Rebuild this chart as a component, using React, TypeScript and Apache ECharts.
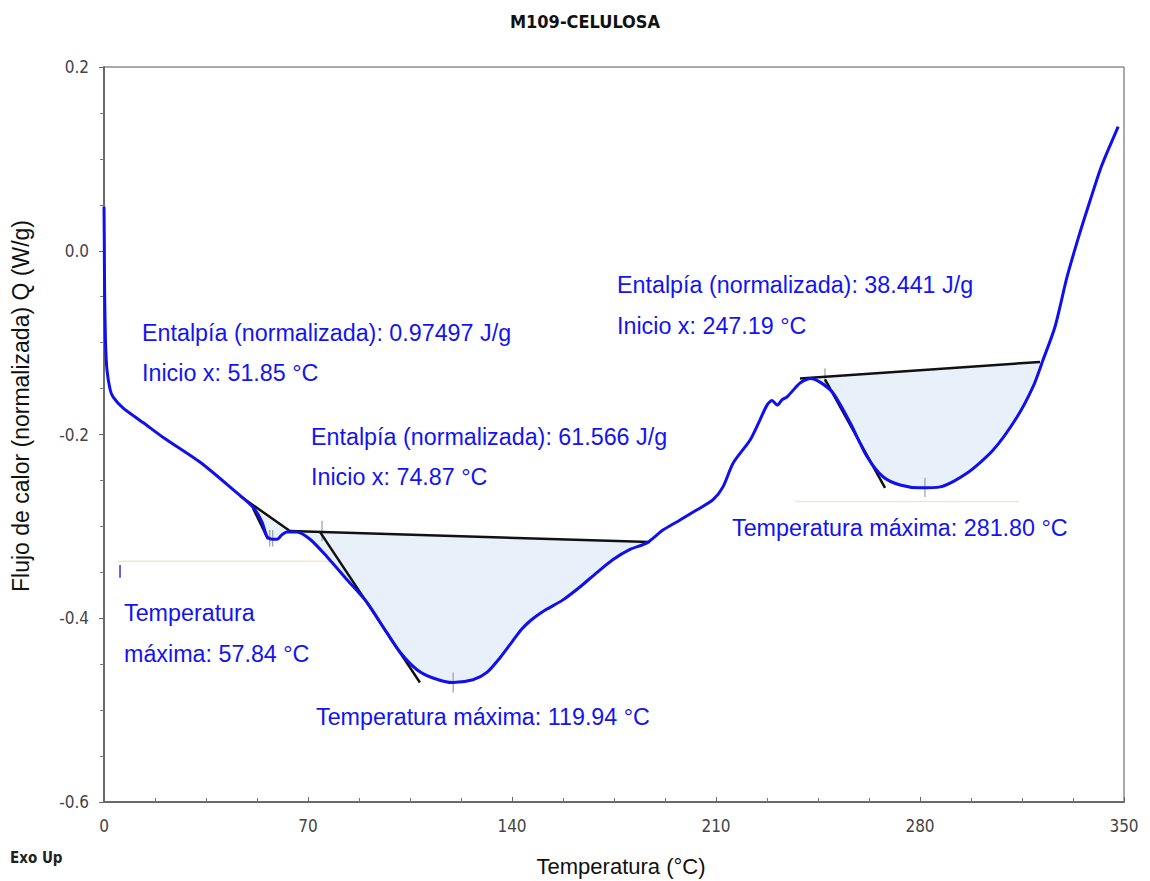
import React, { useEffect, useRef } from "react";
import * as echarts from "echarts";

// Temperature (°C) and heat flow Q (W/g) of the DSC curve
const curveT = [0,0.1,0.2,0.5,1.0,2.1,3.1,6.5,13.4,20.2,32.9,44.3,51.1,54.2,55.9,57.7,59.4,61.1,62.8,66.2,70.7,76.5,83.4,90.3,97.1,101.6,107.4,112.9,119.8,126.6,131.4,135.9,140.4,143.3,146.2,149.1,152.0,157.5,163.3,169.2,174.7,180.5,186.3,191.8,197.7,203.5,209.0,212.4,215.9,221.7,225.1,227.5,229.2,231.0,232.7,234.4,238.8,242.3,245.7,250.2,256.0,261.8,267.3,273.2,280.0,286.9,296.2,305.1,313.3,318.8,322.2,326.3,330.5,334.9,338.4,341.8,344.2,348.0];
const curveQ = [0.048,0.012,-0.042,-0.097,-0.129,-0.151,-0.159,-0.171,-0.187,-0.203,-0.230,-0.260,-0.279,-0.295,-0.311,-0.314,-0.314,-0.309,-0.306,-0.306,-0.314,-0.333,-0.358,-0.383,-0.416,-0.437,-0.456,-0.465,-0.470,-0.467,-0.459,-0.443,-0.424,-0.412,-0.403,-0.396,-0.390,-0.380,-0.366,-0.350,-0.336,-0.325,-0.318,-0.304,-0.293,-0.282,-0.271,-0.257,-0.231,-0.206,-0.184,-0.168,-0.163,-0.168,-0.162,-0.159,-0.144,-0.139,-0.143,-0.155,-0.187,-0.224,-0.246,-0.255,-0.258,-0.257,-0.242,-0.217,-0.181,-0.148,-0.119,-0.083,-0.028,0.020,0.055,0.088,0.107,0.135];

// Baselines (integration limits) of the three peaks
const baselines = [
  [[46.7, -0.267], [63.8, -0.305]],
  [[63.8, -0.305], [187.4, -0.317]],
  [[238.8, -0.139], [321.2, -0.121]],
];
// Onset tangents
const tangents = [
  [[51.1, -0.28], [56.3, -0.314]],
  [[74.1, -0.306], [108.4, -0.47]],
  [[247.4, -0.14], [268.0, -0.258]],
];
// Small grey markers at onset / peak positions
const markers = [
  [[56.9, -0.304], [56.9, -0.322]],
  [[57.9, -0.304], [57.9, -0.322]],
  [[74.8, -0.294], [74.8, -0.316]],
  [[119.8, -0.459], [119.8, -0.481]],
  [[247.4, -0.128], [247.4, -0.147]],
  [[281.7, -0.247], [281.7, -0.268]],
];
const blueMarker = [[5.5, -0.342], [5.5, -0.356]];
const faintLines = [
  [[4.8, -0.338], [77.6, -0.338]],
  [[237, -0.273], [314, -0.273]],
];

const xTicks = [0, 70, 140, 210, 280, 350];
const yTicks = [-0.6, -0.4, -0.2, 0.0, 0.2];

const annotations = [
  { text: "Entalpía (normalizada): 0.97497 J/g", x: 142, y: 333 },
  { text: "Inicio x: 51.85 °C", x: 142, y: 373 },
  { text: "Entalpía (normalizada): 61.566 J/g", x: 311, y: 437 },
  { text: "Inicio x: 74.87 °C", x: 311, y: 477 },
  { text: "Entalpía (normalizada): 38.441 J/g", x: 617, y: 285 },
  { text: "Inicio x: 247.19 °C", x: 617, y: 326 },
  { text: "Temperatura máxima: 281.80 °C", x: 732, y: 528 },
  { text: "Temperatura máxima: 119.94 °C", x: 316, y: 717 },
  { text: "Temperatura", x: 124, y: 613 },
  { text: "máxima: 57.84 °C", x: 124, y: 654 },
];

const SANS = "'Liberation Sans', Arial, sans-serif";
const NARROW = "'DejaVu Sans Condensed', 'Liberation Sans Narrow', sans-serif";

export default function App() {
  const ref = useRef<HTMLDivElement>(null);
  useEffect(() => {
    if (!ref.current) return;
    const chart = echarts.init(ref.current, null, { renderer: "svg" });
    const curve = curveT.map((t, i) => [t, curveQ[i]]);
    const regions = baselines.map(([a, b]) => [
      a,
      ...curve.filter((p) => p[0] > a[0] && p[0] < b[0]),
      b,
    ]);
    const seg = (d: number[][], color: string, width: number, z: number) => ({
      type: "line",
      data: d,
      showSymbol: false,
      symbol: "none",
      silent: true,
      lineStyle: { color, width },
      z,
    });
    const option: any = {
      animation: false,
      grid: {
        left: 104,
        right: 26,
        top: 67,
        bottom: 79,
        show: true,
        borderColor: "#555",
        borderWidth: 1,
        backgroundColor: "transparent",
      },
      xAxis: {
        type: "value",
        min: 0,
        max: 350,
        interval: 70,
        axisLine: { show: true, onZero: false, lineStyle: { color: "#6a6a6a", width: 2 } },
        axisTick: { show: true, inside: true, length: 5, lineStyle: { color: "#666" } },
        minorTick: { show: true, splitNumber: 4, length: 4, lineStyle: { color: "#777" } },
        splitLine: { show: false },
        axisLabel: {
          color: "#444",
          fontFamily: NARROW,
          fontSize: 17,
          margin: 15,
          formatter: (v: number) => (xTicks.includes(v) ? String(v) : ""),
        },
      },
      yAxis: {
        type: "value",
        min: -0.6,
        max: 0.2,
        interval: 0.2,
        axisLine: { show: true, onZero: false, lineStyle: { color: "#6a6a6a", width: 2 } },
        axisTick: { show: true, inside: false, length: 5, lineStyle: { color: "#666" } },
        minorTick: { show: true, splitNumber: 4, length: 4, lineStyle: { color: "#777" } },
        splitLine: { show: false },
        axisLabel: {
          color: "#444",
          fontFamily: NARROW,
          fontSize: 17,
          margin: 15,
          formatter: (v: number) => {
            const r = Math.round(v * 10) / 10;
            return yTicks.some((t) => Math.abs(t - r) < 1e-6) ? (r === 0 ? "0.0" : r.toFixed(1)) : "";
          },
        },
      },
      graphic: [
        {
          type: "text",
          x: 585,
          y: 21,
          style: {
            text: "M109-CELULOSA",
            font: `bold 18px ${NARROW}`,
            fill: "#111",
            align: "center",
            verticalAlign: "middle",
          },
        },
        {
          type: "text",
          x: 21,
          y: 406,
          rotation: Math.PI / 2,
          style: {
            text: "Flujo de calor (normalizada) Q (W/g)",
            font: `23px ${SANS}`,
            fill: "#111",
            align: "center",
            verticalAlign: "middle",
          },
        },
        {
          type: "text",
          x: 621,
          y: 866,
          style: {
            text: "Temperatura (°C)",
            font: `22px ${SANS}`,
            fill: "#111",
            align: "center",
            verticalAlign: "middle",
          },
        },
        {
          type: "text",
          x: 10,
          y: 858,
          style: {
            text: "Exo Up",
            font: `bold 15px ${NARROW}`,
            fill: "#222",
            align: "left",
            verticalAlign: "middle",
          },
        },
        ...annotations.map((a) => ({
          type: "text",
          x: a.x,
          y: a.y,
          z: 10,
          style: {
            text: a.text,
            font: `23.3px ${SANS}`,
            fill: "#1414f0",
            align: "left",
            verticalAlign: "middle",
          },
        })),
      ],
      series: [
        {
          type: "custom",
          coordinateSystem: "cartesian2d",
          silent: true,
          z: 1,
          data: regions.map((_, i) => [0, 0, i]),
          renderItem: (params: any, api: any) => {
            const reg = regions[params.dataIndex];
            return {
              type: "polygon",
              shape: { points: reg.map((p) => api.coord(p)) },
              style: { fill: "#e8f1fa" },
            };
          },
        },
        ...faintLines.map((d) => seg(d, "#efe8cf", 1.5, 2)),
        ...markers.map((d) => seg(d, "#8a8a8a", 1, 3)),
        seg(blueMarker, "#3030e0", 1.5, 3),
        ...baselines.map((d) => seg(d, "#111", 2.5, 4)),
        ...tangents.map((d) => seg(d, "#111", 2.5, 4)),
        {
          type: "line",
          data: curve,
          showSymbol: false,
          symbol: "none",
          smooth: 0.25,
          silent: true,
          lineStyle: { color: "#1010ee", width: 3 },
          z: 5,
        },
      ],
    };
    chart.setOption(option);
    return () => chart.dispose();
  }, []);
  return (
    <div
      ref={ref}
      style={{ position: "absolute", left: 0, top: 0, width: 1150, height: 881, background: "#fff" }}
    />
  );
}
